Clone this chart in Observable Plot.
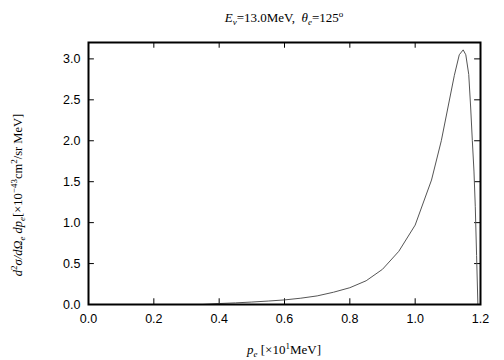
<!DOCTYPE html>
<html>
<head>
<meta charset="utf-8">
<script src="https://cdn.jsdelivr.net/npm/d3@7"></script>
<script src="https://cdn.jsdelivr.net/npm/@observablehq/plot@0.6"></script>
<style>
  html, body { margin: 0; padding: 0; background: #fff; }
  #chart { width: 504px; height: 360px; }
</style>
</head>
<body>
<div id="chart"></div>
<script>
// momentum p_e [x10 MeV]
const pe = [0.35, 0.40, 0.45, 0.50, 0.55, 0.60, 0.65, 0.70, 0.75, 0.80, 0.85, 0.90, 0.95, 1.00, 1.05, 1.08, 1.10, 1.12, 1.135, 1.147, 1.155, 1.164, 1.170, 1.175, 1.180, 1.184, 1.188, 1.192];
// cross section [x10^-43 cm^2/sr MeV]
const xs = [0.0, 0.012, 0.02, 0.03, 0.042, 0.056, 0.077, 0.105, 0.15, 0.205, 0.29, 0.43, 0.65, 0.97, 1.52, 2.0, 2.4, 2.8, 3.05, 3.11, 3.05, 2.81, 2.4, 2.0, 1.63, 1.2, 0.6, 0.0];
const xTicks = [0.0, 0.2, 0.4, 0.6, 0.8, 1.0, 1.2];
const yTicks = [0.0, 0.5, 1.0, 1.5, 2.0, 2.5, 3.0];

const data = pe.map((p, i) => ({p, v: xs[i]}));
const xDom = [0, 1.2], yDom = [0, 3.2];
const tickLenY = 0.07, tickLenX = 0.018;

const plot = Plot.plot({
  width: 504, height: 360,
  marginLeft: 88, marginRight: 24, marginTop: 42, marginBottom: 56,
  style: {fontFamily: "'Liberation Sans', Arial, sans-serif", fontSize: "12px", color: "#000", background: "#fff"},
  x: {domain: xDom},
  y: {domain: yDom},
  marks: [
    Plot.axisX(xTicks, {tickSize: 0, tickPadding: 10, tickFormat: d => d.toFixed(1), label: null, fontSize: 12.5}),
    Plot.axisY(yTicks, {tickSize: 0, tickPadding: 8, tickFormat: d => d.toFixed(1), label: null, fontSize: 12.5}),
    Plot.ruleX(xTicks.slice(1, -1), {x: d => d, y1: yDom[0], y2: yDom[0] + tickLenY, stroke: "#000"}),
    Plot.ruleX(xTicks.slice(1, -1), {x: d => d, y1: yDom[1], y2: yDom[1] - tickLenY, stroke: "#000"}),
    Plot.ruleY(yTicks.slice(1), {y: d => d, x1: xDom[0], x2: xDom[0] + tickLenX, stroke: "#000"}),
    Plot.ruleY(yTicks.slice(1), {y: d => d, x1: xDom[1], x2: xDom[1] - tickLenX, stroke: "#000"}),
    Plot.line(data, {x: "p", y: "v", stroke: "#555", strokeWidth: 1, curve: "linear"}),
    Plot.frame({stroke: "#000", strokeWidth: 2})
  ]
});
document.getElementById("chart").appendChild(plot);

const svg = d3.select(plot);
const serif = "'Liberation Serif', 'Times New Roman', serif";

// title
const t = svg.append("text").attr("x", 284).attr("y", 22).attr("text-anchor", "middle")
  .attr("font-family", serif).attr("font-size", 13).attr("fill", "#000");
t.append("tspan").attr("font-style", "italic").text("E");
t.append("tspan").attr("font-style", "italic").attr("font-size", 9).attr("dy", 3).text("ν");
t.append("tspan").attr("dy", -3).text("=13.0MeV,  ");
t.append("tspan").attr("font-style", "italic").text("θ");
t.append("tspan").attr("font-style", "italic").attr("font-size", 9).attr("dy", 3).text("e");
t.append("tspan").attr("dy", -3).text("=125");
t.append("tspan").attr("font-size", 9).attr("dy", -5).text("o");

// x label
const xl = svg.append("text").attr("x", 284).attr("y", 354).attr("text-anchor", "middle")
  .attr("font-family", serif).attr("font-size", 13).attr("fill", "#000");
xl.append("tspan").attr("font-style", "italic").text("p");
xl.append("tspan").attr("font-style", "italic").attr("font-size", 9).attr("dy", 3).text("e");
xl.append("tspan").attr("dy", -3).text(" [×10");
xl.append("tspan").attr("font-size", 9).attr("dy", -5).text("1");
xl.append("tspan").attr("dy", 5).text("MeV]");

// y label
const yl = svg.append("text").attr("transform", "translate(22,195) rotate(-90)").attr("text-anchor", "middle")
  .attr("font-family", serif).attr("font-size", 12.5).attr("fill", "#000");
yl.append("tspan").attr("font-style", "italic").text("d");
yl.append("tspan").attr("font-size", 9).attr("dy", -5).text("2");
yl.append("tspan").attr("font-style", "italic").attr("dy", 5).text("σ/dΩ");
yl.append("tspan").attr("font-style", "italic").attr("font-size", 9).attr("dy", 3).text("e");
yl.append("tspan").attr("font-style", "italic").attr("dy", -3).text(" dp");
yl.append("tspan").attr("font-style", "italic").attr("font-size", 9).attr("dy", 3).text("e");
yl.append("tspan").attr("dy", -3).text("[×10");
yl.append("tspan").attr("font-size", 9).attr("dy", -5).text("−43");
yl.append("tspan").attr("dy", 5).text("cm");
yl.append("tspan").attr("font-size", 9).attr("dy", -5).text("2");
yl.append("tspan").attr("dy", 5).text("/sr MeV]");
</script>
</body>
</html>
